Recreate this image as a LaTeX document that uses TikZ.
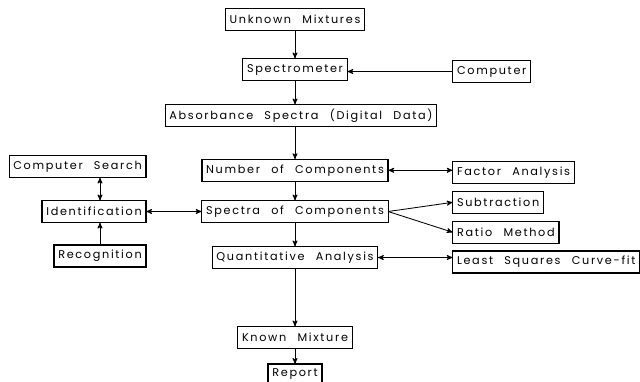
\documentclass[tikz,border=0pt]{standalone}
\usepackage{fontspec}
\setmainfont{Poppins}[LetterSpace=15, WordSpace=2.4]
\usetikzlibrary{arrows,positioning}

\begin{document}
\begin{tikzpicture}[>=stealth',line width=.6pt,node distance=.6cm,box/.style={draw, rectangle, line width=.9pt, outer sep=0pt, minimum height=.55cm, inner xsep=3pt, inner ysep=0pt, font=\fontsize{8}{9}\selectfont}]
				\useasboundingbox (0,0) rectangle (16,-9.525);
				\coordinate (lcol) at (3.65,0);
				\coordinate (rcol) at (11.32,0);
				
				\node[box] (mix) at (7.375,-.4875) {Unknown Mixtures};
				\node[box] (spec) [below=.7cm of mix] {Spectrometer};
				\node[box] (abs) [below=.6cm of spec, xshift=.15cm] {Absorbance Spectra (Digital Data)};
				\node[box] (ncomp) [below=.82cm of abs, xshift=-.15cm] {Number of Components};
				\node[box] (spc) [below=.48cm of ncomp] {Spectra of Components};
				\node[box] (quant) [below=.6cm of spc] {Quantitative Analysis};
				\node[box] (known) [below=1.45cm of quant] {Known Mixture};
				\node[box] (report) [below=.39cm of known, minimum height=.5cm] {Report};
				
				\node[box, anchor=east] (ident) at (lcol |- spc) {Identification};
				\node[box] (search) [above=.575cm of ident.north east, anchor=south east] {Computer Search};
				\node[box] (recog) [below=.56cm of ident.south east, anchor=north east] {Recognition};
				
				\node[box, anchor=west, yshift=-.05cm] (comp) at (rcol |- spec) {Computer};
				\node[box, anchor=west, yshift=-.05cm] (factor) at (rcol |- ncomp) {Factor Analysis};
				\node[box] (sub) [below=.2cm of factor.south west, anchor=north west] {Subtraction};
				\node[box] (ratio) [below=.2cm of sub.south west, anchor=north west] {Ratio Method};
				\node[box] (lsq) [below=.19cm of ratio.south west, anchor=north west] {Least Squares Curve-fit};
				
				\path[->]
				(mix) edge (spec)
				(comp.west) edge (comp.west -| spec.east)
				(spec) edge (spec |- abs.north)
				(abs.south -| ncomp) edge (ncomp)
				(ncomp.east) edge[<->] (ncomp -| factor.west)
				(ncomp) edge (spc)
				
				(spc.east) edge (sub.west)
				(spc.east) edge (ratio.west)
				(ident) edge[<->] (spc)
				(search.south -| recog) edge[<->] (ident.north -| recog)
				(recog) edge (recog |- ident.south)
				
				(spc) edge (quant)
				(quant) edge[<->] (quant -| lsq.west)
				(quant) edge (known)
				(known) edge (report);
				
				
				\end{tikzpicture}
\end{document}
